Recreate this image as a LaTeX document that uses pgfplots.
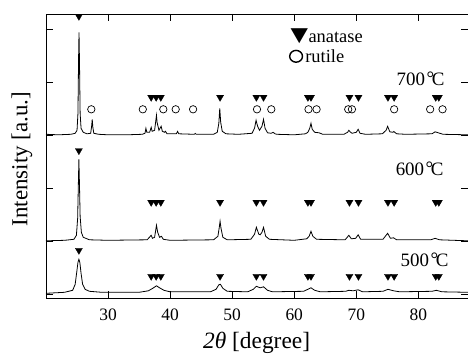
\documentclass[border=0pt]{standalone}
\usepackage{pgfplots}
\pgfplotsset{compat=1.18}
\usepackage{fontspec}
\setmainfont{Liberation Serif}
\newfontfamily\cjk{Noto Sans CJK JP}
\newcommand{\degC}{\kern0.08em\raisebox{0.05em}{°}\kern-0.12em C}
\begin{document}
\begin{tikzpicture}
\begin{axis}[
  at={(0,0)}, anchor=south west,
  width=422bp, height=284.3bp, scale only axis,
  xmin=20, xmax=88, ymin=0, ymax=284.3,
  clip=false,
  axis line style={line width=0.9bp},
  tick pos=both, tick align=inside,
  major tick length=7bp,
  tick style={line width=0.8bp, black},
  xtick={30,40,50,60,70,80},
  ytick={4,57,110,163,216,269},
  yticklabels={},
  /pgf/number format/assume math mode=true,
  xticklabel style={font=\fontsize{17.5}{17.5}\selectfont, yshift=-7bp},
  xlabel={{\itshape 2θ} [degree]},
  ylabel={Intensity [a.u.]},
  xlabel style={font=\fontsize{23.5}{23.5}\selectfont, at={(axis description cs:0.499,-0.158)}, anchor=center},
  ylabel style={font=\fontsize{23}{23}\selectfont, at={(axis description cs:-0.057,0.49)}, anchor=center},
]
% 700 C
\addplot[black, line width=0.8bp] coordinates {
(20,164) (22,163.5) (24,164) (24.7,165) (25.0,168) (25.15,185) (25.25,240) (25.32,266) (25.4,235) (25.5,185) (25.65,170) (26.0,166) (26.6,164.5)
(27.2,165) (27.35,172) (27.45,179) (27.55,171) (27.7,165) (28.5,164) (30,163.5) (33,163.5) (35.5,164) (35.95,165) (36.1,170) (36.25,166)
(36.7,166) (36.95,171) (37.1,167) (37.5,168) (37.7,178) (37.8,183) (37.9,176) (38.2,168) (38.55,172) (38.75,167) (39.1,166) (39.25,167) (39.5,164.5)
(41.0,164.5) (41.2,167) (41.4,164.5) (43.9,164) (44.05,164.8) (44.2,164) (47.0,164) (47.6,166) (47.85,175) (48.0,190) (48.15,176) (48.4,167) (49.0,164.5)
(51,164) (53.2,165) (53.6,170) (53.85,178) (54.1,172) (54.4,168) (54.8,172) (55.05,179) (55.3,170) (55.7,165.5) (56.3,165) (56.6,166) (56.9,164.5) (57.2,164)
(60,163.5) (61.8,164.5) (62.2,166) (62.5,170) (62.7,175) (62.9,169) (63.3,166) (64.0,165.5) (64.6,164) (68.0,164) (68.6,166) (68.8,168) (69.0,166.5) (69.3,165)
(70.0,166) (70.3,169) (70.6,165) (71.5,164) (74.2,164.5) (74.8,168) (75.05,172) (75.4,166.5) (75.9,166) (76.05,166.8) (76.5,164.5) (78,164)
(82.2,164.5) (82.7,166.5) (83.2,165.5) (84,164) (88,163.5)
};
% 600 C
\addplot[black, line width=0.8bp] coordinates {
(20,57.5) (23,58) (24.5,59) (24.9,63) (25.1,80) (25.2,110) (25.3,139) (25.4,112) (25.5,82) (25.7,66) (26.0,61) (27,58.5) (30,58)
(36.3,58.5) (36.95,63) (37.15,60) (37.5,61) (37.8,73) (38.0,66) (38.3,61) (38.6,62) (38.9,59) (40,58) (47,58.5) (47.7,62) (47.9,70) (48.05,77)
(48.2,70) (48.5,61) (49.2,58.5) (53,59) (53.6,64) (53.9,71) (54.3,64) (54.5,63.5) (54.8,66) (55.05,71) (55.4,62) (56,59) (60,58)
(62.0,59.5) (62.4,62) (62.7,67) (63.0,62) (63.6,59) (68.2,58.5) (68.8,63) (69.2,59.5) (69.9,60) (70.3,63.5) (70.7,59) (74.3,59)
(75.05,65) (75.5,60) (76.0,60.5) (76.5,58.5) (82,58.5) (82.7,60) (83.4,58.5) (88,57.5)
};
% 500 C
\addplot[black, line width=0.8bp] coordinates {
(20,5) (23,6) (24.3,8) (24.7,14) (24.95,26) (25.15,36) (25.3,39) (25.45,36) (25.65,25) (25.9,14) (26.3,9) (27,7) (29,6) (35,6)
(36.5,7.5) (37.2,10) (37.8,12.5) (38.3,10.5) (39.0,8) (40,6.5) (46.5,6.5) (47.4,9) (47.85,13.5) (48.1,14) (48.5,10) (49.2,7)
(52.5,6.5) (53.4,9) (53.9,12) (54.5,10.5) (55.05,11.5) (55.7,8) (56.5,6.5) (61.5,7) (62.2,9) (62.7,10.5) (63.3,8) (64.2,6.5)
(68.3,7) (68.8,8) (69.5,7.5) (70.3,8.5) (71.0,6.5) (74.3,7) (75.1,9) (76.0,7.5) (77,6.5) (82.2,7) (82.9,8) (83.8,6.5) (88,6)
};
% anatase markers
\addplot[only marks, mark=triangle*, mark size=4.1bp, mark options={rotate=180, fill=black, draw=black, line width=0.3bp}] coordinates {
(25.3,282) (36.95,201) (37.75,201) (38.5,201) (48.05,201) (53.9,201) (55.05,201) (62.2,201) (62.7,201) (68.9,201) (70.35,201) (75.1,201) (76.1,201) (82.8,201) (83.3,201)
(25.3,147.7) (36.95,96) (37.75,96) (38.5,96) (48.05,96) (53.9,96) (55.05,96) (62.2,96) (62.7,96) (68.9,96) (70.35,96) (75.1,96) (76.1,96) (82.8,96) (83.3,96)
(25.3,48) (36.95,22) (37.75,22) (38.5,22) (48.05,22) (53.9,22) (55.05,22) (62.2,22) (62.7,22) (68.9,22) (70.35,22) (75.1,22) (76.1,22) (82.8,22) (83.3,22)
};
% rutile markers
\addplot[only marks, mark=o, mark size=3.7bp, mark options={black, line width=0.7bp}] coordinates {
(27.3,189) (35.6,189) (38.9,189) (40.9,189) (43.7,189) (54.0,189) (56.3,189) (62.3,189) (63.6,189) (68.7,189) (69.3,189) (76.1,189) (81.9,189) (83.9,189)
};
\node[anchor=base east, font=\fontsize{19}{19}\selectfont, inner sep=0pt] at (axis cs:84.25,213) {700\degC};
\node[anchor=base east, font=\fontsize{19}{19}\selectfont, inner sep=0pt] at (axis cs:84.1,123) {600\degC};
\node[anchor=base east, font=\fontsize{19}{19}\selectfont, inner sep=0pt] at (axis cs:84.9,32) {500\degC};
\node[anchor=base west, font=\fontsize{18.5}{18.5}\selectfont, inner sep=0pt] at (axis cs:59.3,256) {{\cjk ▼}anatase};
\draw[line width=1.4bp] (axis cs:60.3,242) ellipse (6.4bp and 5.9bp);
\node[anchor=base west, font=\fontsize{18.5}{18.5}\selectfont, inner sep=0pt] at (axis cs:61.75,235.7) {rutile};
\end{axis}
\pgfresetboundingbox
\useasboundingbox (-46bp,-56bp) rectangle (422bp,298.3bp);
\end{tikzpicture}
\end{document}
